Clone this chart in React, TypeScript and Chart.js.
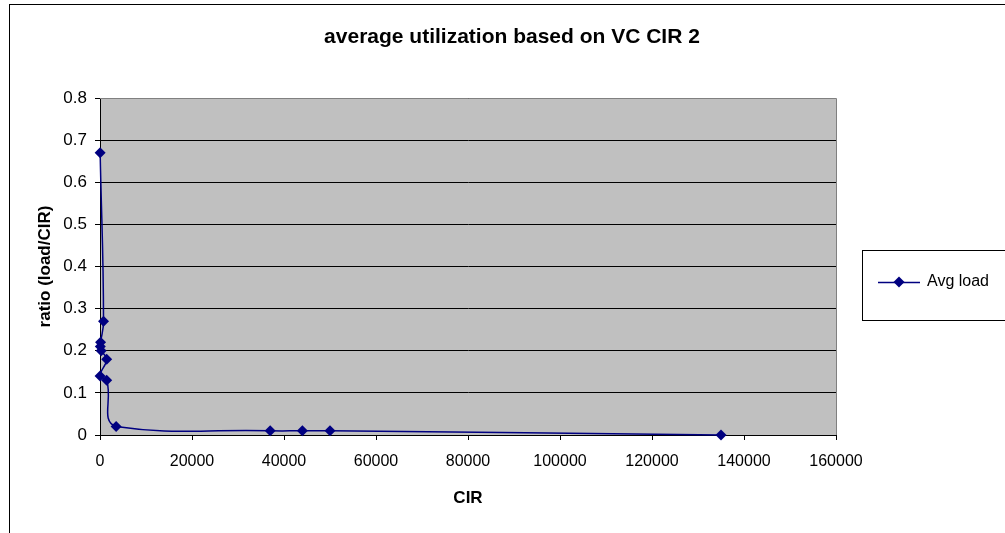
import React, { useEffect, useRef } from "react";
import { Chart, registerables } from "chart.js";

Chart.register(...registerables);

const chartTitle = "average utilization based on VC CIR 2";
const xAxisTitle = "CIR";
const yAxisTitle = "ratio (load/CIR)";
const seriesName = "Avg load";

const cirValues = [32, 768, 128, 64, 256, 1450, 16, 1450, 3500, 37000, 44000, 50000, 135000];
const avgLoad = [0.67, 0.27, 0.22, 0.21, 0.2, 0.18, 0.14, 0.13, 0.02, 0.01, 0.01, 0.01, 0];

const xMin = 0;
const xMax = 160000;
const xStep = 20000;
const yMin = 0;
const yMax = 0.8;
const yStep = 0.1;

const NAVY = "#000080";
const FONT = "'Liberation Sans', Arial, sans-serif";

const decorPlugin = {
  id: "decor",
  beforeDraw(chart: any) {
    const { ctx, chartArea: a, width, height } = chart;
    ctx.save();
    ctx.fillStyle = "#ffffff";
    ctx.fillRect(0, 0, width, height);
    ctx.strokeStyle = "#000000";
    ctx.lineWidth = 1;
    ctx.strokeRect(9.5, 4.5, width + 20, height + 20);
    ctx.fillStyle = "#C0C0C0";
    ctx.fillRect(a.left, a.top, a.right - a.left, a.bottom - a.top);
    ctx.restore();
  },
  beforeDatasetsDraw(chart: any) {
    const { ctx, chartArea: a } = chart;
    ctx.save();
    ctx.strokeStyle = "#808080";
    ctx.lineWidth = 1;
    ctx.beginPath();
    ctx.moveTo(a.left, Math.round(a.top) + 0.5);
    ctx.lineTo(Math.round(a.right) + 0.5, Math.round(a.top) + 0.5);
    ctx.lineTo(Math.round(a.right) + 0.5, a.bottom);
    ctx.stroke();
    ctx.restore();
  },
  afterDraw(chart: any) {
    const { ctx, chartArea: a } = chart;
    ctx.save();
    ctx.fillStyle = "#000000";
    ctx.textAlign = "center";
    ctx.textBaseline = "middle";
    ctx.font = `bold 21px ${FONT}`;
    ctx.fillText(chartTitle, 512, 37);
    ctx.font = `bold 17px ${FONT}`;
    ctx.fillText(xAxisTitle, (a.left + a.right) / 2, 498);
    ctx.save();
    ctx.translate(45, (a.top + a.bottom) / 2);
    ctx.rotate(-Math.PI / 2);
    ctx.fillText(yAxisTitle, 0, 0);
    ctx.restore();
    const lx = 862.5, ly = 250.5, lw = 150, lh = 70;
    ctx.fillStyle = "#ffffff";
    ctx.fillRect(lx, ly, lw, lh);
    ctx.strokeStyle = "#000000";
    ctx.lineWidth = 1;
    ctx.strokeRect(lx, ly, lw, lh);
    const cy = 282;
    ctx.strokeStyle = NAVY;
    ctx.lineWidth = 1.5;
    ctx.beginPath();
    ctx.moveTo(878, cy + 0.5);
    ctx.lineTo(920, cy + 0.5);
    ctx.stroke();
    ctx.fillStyle = NAVY;
    ctx.beginPath();
    ctx.moveTo(899, cy - 5.5);
    ctx.lineTo(904.5, cy);
    ctx.lineTo(899, cy + 5.5);
    ctx.lineTo(893.5, cy);
    ctx.closePath();
    ctx.fill();
    ctx.fillStyle = "#000000";
    ctx.textAlign = "left";
    ctx.font = `16px ${FONT}`;
    ctx.fillText(seriesName, 927, cy);
    ctx.restore();
  },
};

export default function App() {
  const canvasRef = useRef<HTMLCanvasElement | null>(null);

  useEffect(() => {
    if (!canvasRef.current) return;
    const points = cirValues.map((x, i) => ({ x, y: avgLoad[i] }));
    const chart = new Chart(canvasRef.current, {
      type: "scatter",
      data: {
        datasets: [
          {
            label: seriesName,
            data: points,
            showLine: true,
            clip: false,
            borderColor: NAVY,
            backgroundColor: NAVY,
            borderWidth: 1.5,
            tension: 0.45,
            pointStyle: "rectRot",
            pointRadius: 5.5,
            pointHoverRadius: 5.5,
            pointBorderWidth: 0,
          },
        ],
      },
      plugins: [decorPlugin],
      options: {
        responsive: false,
        animation: false,
        events: [],
        layout: { padding: { left: 9, top: 98, right: 169, bottom: 0 } },
        plugins: {
          legend: { display: false },
          title: { display: false },
          tooltip: { enabled: false },
        },
        scales: {
          x: {
            type: "linear",
            min: xMin,
            max: xMax,
            afterFit(scale: any) {
              scale.height = 98;
            },
            ticks: {
              stepSize: xStep,
              padding: 12,
              color: "#000000",
              font: { family: FONT, size: 16 },
              maxRotation: 0,
              callback: (v: any) => String(v),
            },
            grid: {
              drawOnChartArea: false,
              drawTicks: true,
              tickLength: 5,
              color: "#000000",
              tickColor: "#000000",
            },
            border: { display: true, color: "#000000", width: 1 },
          },
          y: {
            type: "linear",
            min: yMin,
            max: yMax,
            afterFit(scale: any) {
              scale.width = 91;
            },
            ticks: {
              stepSize: yStep,
              padding: 8,
              color: "#000000",
              font: { family: FONT, size: 17 },
              callback: (v: any) => String(Math.round(Number(v) * 10) / 10),
            },
            grid: {
              drawOnChartArea: true,
              drawTicks: true,
              tickLength: 5,
              color: "#000000",
              tickColor: "#000000",
            },
            border: { display: true, color: "#000000", width: 1 },
          },
        },
      },
    });
    return () => chart.destroy();
  }, []);

  return (
    <div style={{ position: "fixed", left: 0, top: 0, width: 1005, height: 533, background: "#fff" }}>
      <canvas ref={canvasRef} width={1005} height={533} style={{ display: "block" }} />
    </div>
  );
}
